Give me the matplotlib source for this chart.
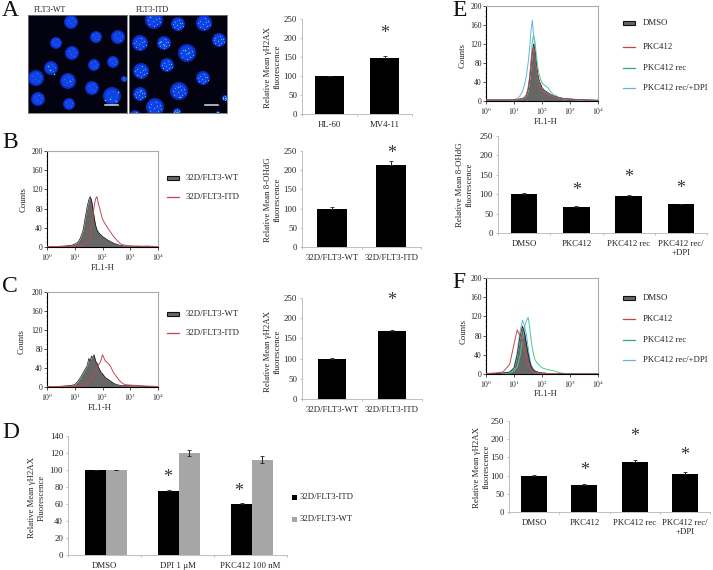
import matplotlib
matplotlib.use("Agg")
import matplotlib.pyplot as plt
from matplotlib.patches import Circle, Rectangle

plt.rcParams['font.family'] = ['Liberation Serif', 'DejaVu Serif']
plt.rcParams['mathtext.fontset'] = 'stix'

W, H = 713, 570
TXT = '#222222'
AXC = '#b5b5b5'
FS = 6.3

# --- bar data ---
A_LABELS = ['HL-60', 'MV4-11']
A_VALS = [100, 148]
A_ERR = [1, 5]

BC_LABELS = ['32D/FLT3-WT', '32D/FLT3-ITD']
B_VALS = [99, 214]
B_ERR = [4, 10]
C_VALS = [100, 169]
C_ERR = [1, 3]

D_LABELS = ['DMSO', 'DPI 1 µM', 'PKC412 100 nM']
D_ITD = [100, 75, 60]
D_ITD_ERR = [0.5, 2, 1]
D_WT = [100, 120.5, 112]
D_WT_ERR = [0.5, 3.5, 4]

EF_LABELS = ['DMSO', 'PKC412', 'PKC412 rec', 'PKC412 rec/\n+DPI']
E_VALS = [100, 67, 95, 74]
E_ERR = [2, 2, 2, 1]
F_VALS = [99, 73, 138, 104]
F_ERR = [2, 4, 6, 5]

# --- flow cytometry data ---
FL1 = [1, 2, 4, 7, 10, 13, 16, 20, 24, 28, 32, 36, 40, 45, 50, 56, 63, 71, 80, 90, 100,
       125, 160, 200, 250, 320, 400, 500, 630, 1000, 2000, 4000, 10000]

B_WT = [1, 1, 2, 3, 6, 10, 19, 35, 62, 84, 98, 105, 98, 80, 62, 46, 36, 31, 27, 25, 22,
        18, 14, 11, 8, 6, 4, 3, 2, 2, 1, 2, 1]
B_ITD = [1, 1, 1, 1, 2, 2, 3, 4, 6, 9, 14, 22, 40, 65, 85, 100, 105, 90, 80, 68, 58,
         48, 38, 30, 22, 15, 9, 5, 4, 2, 2, 1, 1]

C_WT = [1, 1, 2, 3, 5, 12, 20, 30, 38, 45, 60, 55, 65, 62, 68, 55, 50, 42, 36, 30, 28,
        20, 16, 12, 8, 5, 4, 3, 3, 3, 2, 1, 1]
C_ITD = [1, 1, 1, 1, 2, 3, 3, 5, 6, 8, 11, 14, 18, 22, 27, 33, 40, 47, 50, 58, 68,
         55, 50, 42, 30, 22, 14, 9, 5, 4, 3, 2, 1]

E_DMSO = [2, 2, 2, 2, 3, 3, 4, 5, 7, 12, 25, 45, 70, 100, 120, 105, 75, 55, 42, 35, 28,
          22, 18, 14, 11, 9, 7, 6, 5, 4, 3, 2, 1]
E_PKC = [2, 2, 2, 2, 3, 3, 4, 5, 8, 14, 28, 50, 78, 105, 115, 98, 70, 50, 38, 30, 25,
         20, 16, 12, 10, 8, 7, 6, 5, 4, 3, 2, 1]
E_REC = [2, 2, 2, 2, 3, 3, 4, 5, 6, 10, 20, 40, 80, 125, 138, 125, 95, 70, 55, 45, 38,
         33, 28, 20, 14, 11, 8, 6, 5, 4, 3, 2, 2]
E_DPI = [2, 2, 2, 2, 3, 5, 10, 20, 35, 55, 80, 110, 145, 170, 140, 110, 75, 50, 38, 30, 25,
         20, 15, 12, 10, 8, 6, 5, 4, 3, 2, 2, 2]

F_DMSO = [1, 1, 2, 4, 12, 40, 75, 100, 85, 62, 42, 28, 18, 12, 8, 6, 5, 4, 3, 3, 2,
          2, 1, 1, 1, 1, 1, 1, 0, 0, 0, 0, 0]
F_PKC = [1, 2, 4, 20, 62, 92, 80, 72, 50, 32, 20, 12, 8, 6, 4, 3, 3, 2, 2, 2, 1,
         1, 1, 1, 1, 1, 1, 0, 0, 0, 0, 0, 0]
F_REC = [1, 1, 1, 2, 6, 15, 35, 70, 100, 112, 118, 100, 75, 55, 40, 30, 25, 21, 18, 15, 13,
         11, 9, 8, 7, 5, 3, 2, 1, 0, 0, 0, 0]
F_DPI = [1, 1, 2, 4, 14, 45, 85, 112, 100, 80, 55, 35, 20, 14, 10, 7, 5, 4, 3, 3, 2,
         2, 1, 1, 1, 1, 1, 1, 0, 0, 0, 0, 0]

# --- nuclei in the two micrographs: x, y, radius in picture pixels ---
WT_NUCLEI = [(71, 22, 7), (96, 37, 6), (118, 37, 7), (56, 43, 6), (72, 53, 7), (51, 68, 7),
             (94, 65, 6), (113, 62, 6), (36, 78, 8), (68, 81, 8), (92, 88, 7), (124, 79, 3),
             (38, 99, 7), (69, 104, 6), (112, 96, 9)]
ITD_NUCLEI = [(154, 20, 9), (178, 24, 7), (204, 23, 8), (140, 43, 8), (164, 43, 7), (187, 53, 9),
              (219, 40, 7), (167, 65, 7), (141, 71, 8), (203, 78, 7), (140, 94, 7), (179, 91, 9),
              (155, 107, 9), (225, 98, 3), (135, 116, 6), (177, 112, 4), (218, 113, 2)]
WT_GREEN = [(50, 70), (48, 66), (54, 74), (110, 99), (118, 92), (105, 100), (70, 81), (116, 101)]
ITD_GREEN = [(188, 53), (185, 50), (164, 45), (160, 42), (180, 97), (178, 87), (150, 17), (140, 91)]
# speckle offsets inside a nucleus, as fractions of its radius
SPECKLES = [(-0.5, -0.3), (0.1, -0.6), (0.55, -0.2), (-0.15, 0.1), (0.35, 0.4), (-0.55, 0.45),
            (0.05, 0.7), (-0.7, 0.05), (0.7, 0.25), (0.25, -0.1)]


fig = plt.figure(figsize=(W / 100, H / 100), dpi=100)


def ax_px(x0, y0, x1, y1):
    return fig.add_axes([x0 / W, 1 - y1 / H, (x1 - x0) / W, (y1 - y0) / H])


over = fig.add_axes([0, 0, 1, 1], zorder=10)
over.set_xlim(0, W)
over.set_ylim(H, 0)
over.axis('off')


def txt(x, y, s, size=FS, ha='left', rot=0, col=TXT):
    over.text(x, y, s, fontsize=size, ha=ha, va='center', rotation=rot, color=col,
              linespacing=1.25, rotation_mode='anchor' if rot == 0 else 'default')


def micrograph(x0, x1, nuclei, green, speckle_col, speckle_n):
    ax = ax_px(x0, 15, x1, 113)
    ax.set_facecolor('#020210')
    ax.set_xlim(x0, x1)
    ax.set_ylim(113, 15)
    ax.set_xticks([])
    ax.set_yticks([])
    for s in ax.spines.values():
        s.set_color('#777777')
        s.set_linewidth(0.6)
    for x, y, r in nuclei:
        ax.add_patch(Circle((x, y), r, color='#0a2cc4', lw=0))
        ax.add_patch(Circle((x, y), r * 0.78, color='#1142e6', lw=0))
        ax.scatter([x + r * dx for dx, dy in SPECKLES[:speckle_n]],
                   [y + r * dy for dx, dy in SPECKLES[:speckle_n]],
                   s=0.7, color=speckle_col, lw=0)
    ax.scatter([p[0] for p in green], [p[1] for p in green], s=1.2, color='#45e0a0', lw=0)
    ax.plot([x1 - 22, x1 - 9], [105, 105], color='#dddddd', lw=1.1)


micrograph(28, 127, WT_NUCLEI, WT_GREEN, '#2f74ee', 5)
micrograph(129, 227, ITD_NUCLEI, ITD_GREEN, '#4cc4f2', 10)
txt(34, 10, 'FLT3-WT', size=5.8)
txt(136, 10, 'FLT3-ITD', size=5.8)


def bar_panel(box, labels, vals, err, stars, ymax=250, step=50, width=0.5):
    ax = ax_px(*box)
    pos = list(range(len(vals)))
    ax.bar(pos, vals, width=width, color='black', yerr=[[0] * len(err), err],
           error_kw=dict(ecolor='#222222', lw=0.7, capsize=1.2, capthick=0.6))
    style_bar(ax, labels, ymax, step)
    for i, y in stars:
        star(ax, i, y)
    return ax


def style_bar(ax, labels, ymax, step):
    n = len(labels)
    ax.set_xlim(-0.5, n - 0.5)
    ax.set_ylim(0, ymax)
    ax.set_yticks(list(range(0, ymax + 1, step)))
    ax.set_xticks([i - 0.5 for i in range(n + 1)])
    ax.set_xticklabels([])
    ax.set_xticks(list(range(n)), labels=labels, minor=True)
    ax.tick_params(axis='x', which='minor', length=0, pad=5, labelsize=FS, labelcolor=TXT)
    ax.tick_params(axis='x', which='major', length=1.5, color=AXC, width=0.6)
    ax.tick_params(axis='y', length=1.5, color=AXC, width=0.6, pad=2, labelsize=FS, labelcolor=TXT)
    ax.spines['top'].set_visible(False)
    ax.spines['right'].set_visible(False)
    ax.spines['left'].set_color(AXC)
    ax.spines['bottom'].set_color(AXC)
    ax.spines['left'].set_linewidth(0.6)
    ax.spines['bottom'].set_linewidth(0.6)
    ax.patch.set_alpha(0)


def star(ax, i, y):
    ax.annotate('*', (i, y), ha='center', va='center', fontsize=13, color='#333333',
                annotation_clip=False, xytext=(0, -2), textcoords='offset points')


def hist_panel(box, wt=None, red=None, green=None, blue=None):
    ax = ax_px(*box)
    ax.set_xscale('log')
    ax.set_xlim(1, 10000)
    ax.set_ylim(0, 200)
    if wt:
        ax.fill_between(FL1, wt, color='#666666', lw=0, zorder=2)
        ax.plot(FL1, wt, color='#111111', lw=0.5, zorder=3)
    if green:
        ax.plot(FL1, green, color='#3fd08f', lw=0.7, zorder=2.5)
    if blue:
        ax.plot(FL1, blue, color='#62b4dc', lw=0.7, zorder=2.6)
    if red:
        ax.plot(FL1, red, color='#c04a55', lw=0.7, zorder=4)
    ax.set_yticks([0, 40, 80, 120, 160, 200])
    ax.set_yticks(list(range(0, 201, 10)), minor=True)
    ax.set_xticks([1, 10, 100, 1000, 10000],
                  labels=['$10^{0}$', '$10^{1}$', '$10^{2}$', '$10^{3}$', '$10^{4}$'])
    ax.tick_params(axis='both', which='major', length=2, width=0.6, color='#333333', pad=1,
                   labelsize=5.5, labelcolor=TXT)
    ax.tick_params(axis='both', which='minor', length=1, width=0.4, color='#333333')
    ax.spines['top'].set_color('#aaaaaa')
    ax.spines['right'].set_color('#aaaaaa')
    for s in ax.spines.values():
        s.set_linewidth(0.8)
    return ax


def legend_fill(x, y, label, tx):
    over.add_patch(Rectangle((x, y - 2), 12, 4, fc='#666666', ec='#111111', lw=0.8))
    txt(tx, y, label)


def legend_line(x, y, label, col, tx):
    over.plot([x, x + 12], [y, y], color=col, lw=0.9)
    txt(tx, y, label)


# --- A ---
txt(2, 10, 'A', size=17, col='#111111')
bar_panel((302, 19, 412, 114), A_LABELS, A_VALS, A_ERR, [(1, 218)], width=0.51)
txt(273, 67, 'Relative Mean γH2AX\nfluorescence', ha='center', rot=90)

# --- B ---
txt(2, 143, 'B', size=17, col='#111111')
hist_panel((47, 151, 158, 247), wt=B_WT, red=B_ITD)
legend_fill(167, 178, '32D/FLT3-WT', 186)
legend_line(167, 197, '32D/FLT3-ITD', '#c8404a', 186)
txt(103, 268, 'FL1-H', ha='center')
txt(24, 200, 'Counts', ha='center', rot=90)
bar_panel((302, 151, 421, 247), BC_LABELS, B_VALS, B_ERR, [(1, 250)], width=0.5)
txt(273, 200, 'Relative Mean 8-OHdG\nfluorescence', ha='center', rot=90)

# --- C ---
txt(2, 286, 'C', size=17, col='#111111')
hist_panel((47, 292, 158, 387), wt=C_WT, red=C_ITD)
legend_fill(167, 314, '32D/FLT3-WT', 186)
legend_line(167, 333, '32D/FLT3-ITD', '#c8404a', 186)
txt(100, 408, 'FL1-H', ha='center')
txt(22, 341, 'Counts', ha='center', rot=90)
bar_panel((302, 298, 422, 399), BC_LABELS, C_VALS, C_ERR, [(1, 250)], width=0.48)
txt(273, 352, 'Relative Mean γH2AX\nfluorescence', ha='center', rot=90)

# --- D ---
txt(2, 433, 'D', size=17, col='#111111')
ax_d = ax_px(68, 436, 287, 555)
pos_d = [0, 1, 2]
bw = 0.285
ax_d.bar([p - bw / 2 + 0.02 for p in pos_d], D_ITD, width=bw, color='black',
         yerr=[[0] * 3, D_ITD_ERR], error_kw=dict(ecolor='#222222', lw=0.7, capsize=1.2, capthick=0.6))
ax_d.bar([p + bw / 2 + 0.02 for p in pos_d], D_WT, width=bw, color='#a6a6a6',
         yerr=D_WT_ERR, error_kw=dict(ecolor='#222222', lw=0.7, capsize=1.5, capthick=0.6))
style_bar(ax_d, D_LABELS, 140, 20)
star(ax_d, 0.87, 95)
star(ax_d, 1.84, 78)
over.add_patch(Rectangle((292, 495), 5, 5, fc='black', lw=0))
over.add_patch(Rectangle((292, 517), 5, 5, fc='#a6a6a6', lw=0))
txt(300, 497, '32D/FLT3-ITD')
txt(300, 519, '32D/FLT3-WT')
txt(37, 498, 'Relative Mean γH2AX\nFluorescence', ha='center', rot=90)

# --- E ---
txt(452, 10, 'E', size=17, col='#111111')
hist_panel((486, 6, 598, 101), wt=E_DMSO, red=E_PKC, green=E_REC, blue=E_DPI)
legend_fill(623, 23, 'DMSO', 643)
legend_line(623, 47, 'PKC412', '#c8404a', 643)
legend_line(623, 68, 'PKC412 rec', '#22b070', 643)
legend_line(623, 88, 'PKC412 rec/+DPI', '#62b4dc', 643)
txt(546, 122, 'FL1-H', ha='center')
txt(463, 55, 'Counts', ha='center', rot=90)
bar_panel((498, 136, 707, 233), EF_LABELS, E_VALS, E_ERR, [(1, 116), (2, 150), (3, 121)], width=0.51)
txt(465, 185, 'Relative Mean 8-OHdG\nfluorescence', ha='center', rot=90)

# --- F ---
txt(452, 283, 'F', size=17, col='#111111')
hist_panel((486, 278, 598, 374), wt=F_DMSO, red=F_PKC, green=F_REC, blue=F_DPI)
legend_fill(623, 298, 'DMSO', 643)
legend_line(623, 319, 'PKC412', '#c8404a', 643)
legend_line(623, 340, 'PKC412 rec', '#22b070', 643)
legend_line(623, 360, 'PKC412 rec/+DPI', '#62b4dc', 643)
txt(546, 394, 'FL1-H', ha='center')
txt(464, 331, 'Counts', ha='center', rot=90)
bar_panel((509, 421, 710, 512), EF_LABELS, F_VALS, F_ERR, [(1, 121), (2, 214), (3, 162)], width=0.52)
txt(482, 467, 'Relative Mean γH2AX\nfluorescence', ha='center', rot=90)

fig.savefig('out.png', dpi=100)
